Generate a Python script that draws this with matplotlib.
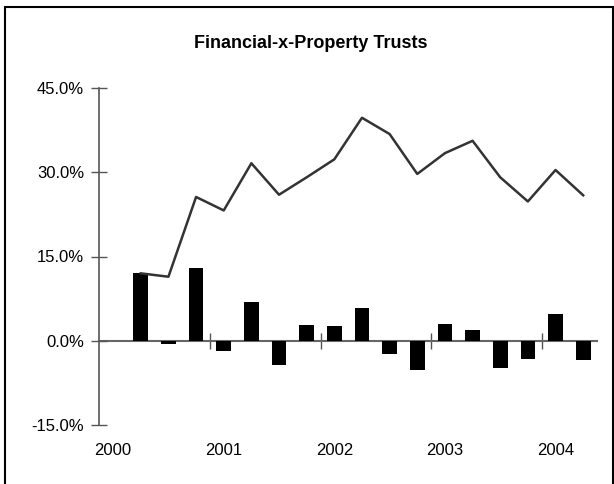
import matplotlib
matplotlib.use("Agg")
import matplotlib.pyplot as plt
import matplotlib.patches as patches
import numpy as np

# quarterly data, first quarter of 2000 empty
quarters = list(range(18))
quarterly_return = [np.nan, 12.1, -0.6, 13.0, -1.9, 6.9, -4.3, 2.8, 2.6, 5.8,
                    -2.3, -5.2, 3.0, 2.0, -4.9, -3.3, 4.7, -3.4]
annual_return = [np.nan, 12.0, 11.4, 25.6, 23.2, 31.6, 26.0, 29.1, 32.3, 39.7,
                 36.8, 29.7, 33.4, 35.6, 29.1, 24.8, 30.4, 25.9]
year_labels = ["2000", "2001", "2002", "2003", "2004"]
year_pos = [0, 4, 8, 12, 16]
year_bounds = [3.5, 7.5, 11.5, 15.5]

plt.rcParams['font.family'] = ['Liberation Sans', 'DejaVu Sans']

W, H = 614, 484
fig = plt.figure(figsize=(W / 100, H / 100), dpi=100)
ax = fig.add_axes([99.3 / W, (H - 425) / H, (597 - 99.3) / W, (425 - 88) / H])

ax.bar(quarters, quarterly_return, width=0.53, color="black", zorder=2)
ax.plot(quarters, annual_return, color="#333333", linewidth=1.8, zorder=3)

ax.set_xlim(-0.5, 17.5)
ax.set_ylim(-15, 45)
ax.set_yticks([-15, 0, 15, 30, 45])
ax.set_yticklabels(["-15.0%", "0.0%", "15.0%", "30.0%", "45.0%"])
ax.tick_params(axis="y", direction="inout", length=11, width=1, color="#555555",
               labelsize=12, pad=5.5)

ax.set_xticks(year_pos)
ax.set_xticklabels(year_labels)
ax.tick_params(axis="x", length=0, labelsize=12, pad=13)

for s in ["top", "right", "bottom"]:
    ax.spines[s].set_visible(False)
ax.spines["left"].set_color("#555555")
ax.spines["left"].set_linewidth(1.2)

# zero line with year boundary ticks
secax = ax.secondary_xaxis(0.25)
secax.set_xticks(year_bounds)
secax.tick_params(direction="inout", length=11, width=1, color="#555555",
                  labelbottom=False)
secax.spines["bottom"].set_color("#666666")
secax.spines["bottom"].set_linewidth(1.5)

fig.text(311 / W, 1 - 43 / H, "Financial-x-Property Trusts", ha="center", va="center",
         fontsize=13, fontweight="bold",
         family=["Liberation Sans Narrow", "Liberation Sans", "DejaVu Sans"])

# chart frame: left, top and right edge; bottom falls outside the image
frame = patches.Rectangle((5 / W, -0.1), 607.5 / W, 1.1 - 7 / H, transform=fig.transFigure,
                          fill=False, edgecolor="black", linewidth=1.5)
fig.patches.append(frame)

fig.savefig("out.png", dpi=100)
